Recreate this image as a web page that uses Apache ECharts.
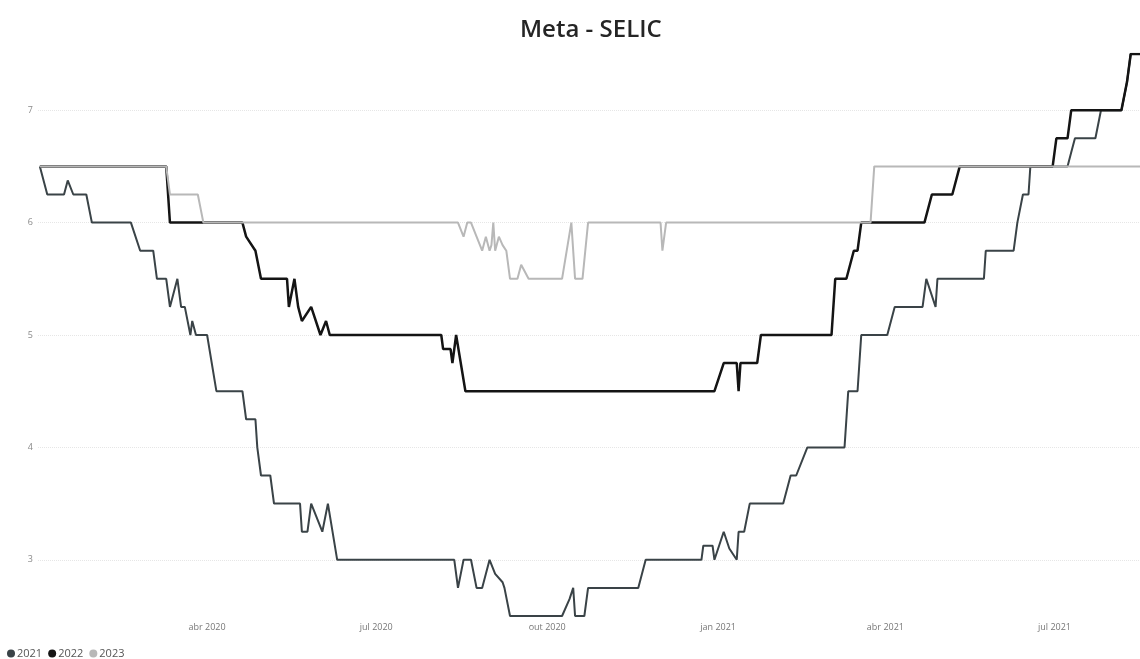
<!DOCTYPE html>
<html>
<head>
<meta charset="utf-8">
<title>Meta - SELIC</title>
<script src="https://cdn.jsdelivr.net/npm/echarts@6/dist/echarts.min.js"></script>
<style>
  html, body { margin: 0; padding: 0; background: #ffffff; }
  #selicChart { width: 1140px; height: 659px; }
</style>
</head>
<body>
<div id="selicChart"></div>
<script>
  // expectativas Focus - meta Selic para o fim de cada ano
  var seriesNames = ['2021', '2022', '2023'];

  var dates2021 = [
    '2020-01-02','2020-01-03','2020-01-06','2020-01-15','2020-01-17','2020-01-20','2020-01-27','2020-01-30','2020-02-20','2020-02-25',
    '2020-03-03','2020-03-05','2020-03-10','2020-03-12','2020-03-16','2020-03-18','2020-03-20','2020-03-23','2020-03-24','2020-03-26',
    '2020-04-01','2020-04-06','2020-04-20','2020-04-22','2020-04-27','2020-04-28','2020-04-30','2020-05-05','2020-05-07','2020-05-21',
    '2020-05-22','2020-05-25','2020-05-27','2020-06-02','2020-06-03','2020-06-05','2020-06-10','2020-08-12','2020-08-14','2020-08-17',
    '2020-08-21','2020-08-24','2020-08-27','2020-08-31','2020-09-03','2020-09-07','2020-09-08','2020-09-11','2020-10-09','2020-10-13',
    '2020-10-15','2020-10-16','2020-10-21','2020-10-23','2020-11-19','2020-11-23','2020-12-23','2020-12-24','2020-12-29','2020-12-30',
    '2021-01-04','2021-01-07','2021-01-11','2021-01-12','2021-01-15','2021-01-18','2021-02-05','2021-02-09','2021-02-12','2021-02-18',
    '2021-03-10','2021-03-12','2021-03-17','2021-03-19','2021-04-02','2021-04-06','2021-04-21','2021-04-23','2021-04-28','2021-04-29',
    '2021-05-24','2021-05-25','2021-06-09','2021-06-11','2021-06-12','2021-06-14','2021-06-17','2021-06-18','2021-07-08','2021-07-10',
    '2021-07-12','2021-07-23','2021-07-26','2021-08-06','2021-08-09','2021-08-11','2021-08-16'
  ];
  var values2021 = [
    6.5, 6.5, 6.25, 6.25, 6.375, 6.25, 6.25, 6, 6, 5.75,
    5.75, 5.5, 5.5, 5.25, 5.5, 5.25, 5.25, 5, 5.125, 5,
    5, 4.5, 4.5, 4.25, 4.25, 4, 3.75, 3.75, 3.5, 3.5,
    3.25, 3.25, 3.5, 3.25, 3.25, 3.5, 3, 3, 2.75, 3,
    3, 2.75, 2.75, 3, 2.875, 2.8, 2.75, 2.5, 2.5, 2.65,
    2.75, 2.5, 2.5, 2.75, 2.75, 3, 3, 3.125, 3.125, 3,
    3.25, 3.1, 3, 3.25, 3.25, 3.5, 3.5, 3.75, 3.75, 4,
    4, 4.5, 4.5, 5, 5, 5.25, 5.25, 5.5, 5.25, 5.5,
    5.5, 5.75, 5.75, 6, 6, 6.25, 6.25, 6.5, 6.5, 6.625,
    6.75, 6.75, 7, 7, 7.25, 7.5, 7.5
  ];

  var dates2022 = [
    '2020-01-02','2020-03-10','2020-03-12','2020-04-20','2020-04-22','2020-04-27','2020-04-30','2020-05-14','2020-05-15','2020-05-18',
    '2020-05-20','2020-05-22','2020-05-27','2020-06-01','2020-06-04','2020-06-06','2020-08-05','2020-08-06','2020-08-10','2020-08-11',
    '2020-08-13','2020-08-18','2020-12-30','2021-01-04','2021-01-11','2021-01-12','2021-01-13','2021-01-22','2021-01-24','2021-03-03',
    '2021-03-05','2021-03-11','2021-03-15','2021-03-17','2021-03-19','2021-04-22','2021-04-26','2021-05-07','2021-05-11','2021-06-30',
    '2021-07-02','2021-07-08','2021-07-10','2021-08-06','2021-08-09','2021-08-11','2021-08-16'
  ];
  var values2022 = [
    6.5, 6.5, 6, 6, 5.875, 5.75, 5.5, 5.5, 5.25, 5.5,
    5.25, 5.125, 5.25, 5, 5.125, 5, 5, 4.875, 4.875, 4.75,
    5, 4.5, 4.5, 4.75, 4.75, 4.5, 4.75, 4.75, 5, 5,
    5.5, 5.5, 5.75, 5.75, 6, 6, 6.25, 6.25, 6.5, 6.5,
    6.75, 6.75, 7, 7, 7.25, 7.5, 7.5
  ];

  var dates2023 = [
    '2020-01-02','2020-03-10','2020-03-12','2020-03-27','2020-03-30','2020-08-14','2020-08-17','2020-08-19','2020-08-21','2020-08-24',
    '2020-08-27','2020-08-29','2020-08-31','2020-09-01','2020-09-02','2020-09-03','2020-09-05','2020-09-07','2020-09-09','2020-09-11',
    '2020-09-15','2020-09-17','2020-09-21','2020-10-09','2020-10-14','2020-10-16','2020-10-20','2020-10-23','2020-12-01','2020-12-02',
    '2020-12-04','2021-03-24','2021-03-26','2021-08-16'
  ];
  var values2023 = [
    6.5, 6.5, 6.25, 6.25, 6, 6, 5.875, 6, 6, 5.875,
    5.75, 5.875, 5.75, 5.8, 6, 5.75, 5.875, 5.8, 5.75, 5.5,
    5.5, 5.625, 5.5, 5.5, 6, 5.5, 5.5, 6, 6, 5.75,
    6, 6, 6.5, 6.5
  ];

  // rotulos dos eixos
  var xStart = '2020-01-01';
  var xEnd = '2021-08-16';
  var xLabelMonths = [0, 3, 6, 9];          // jan, abr, jul, out
  var monthNames = ['jan', 'fev', 'mar', 'abr', 'mai', 'jun', 'jul', 'ago', 'set', 'out', 'nov', 'dez'];
  var yTicks = [3, 4, 5, 6, 7];

  function parseDay(s) {
    var p = s.split('-');
    return new Date(+p[0], +p[1] - 1, +p[2]).getTime();
  }

  function zip(dates, values) {
    return dates.map(function (d, i) { return [parseDay(d), values[i]]; });
  }

  var dom = document.getElementById('selicChart');
  var myChart = echarts.init(dom);

  var option = {
    animation: false,
    textStyle: { fontFamily: 'Open Sans' },
    title: {
      text: 'Meta - SELIC',
      left: 515,
      top: 13,
      textStyle: { fontFamily: 'Open Sans', fontSize: 24, fontWeight: 600, color: '#252525' }
    },
    legend: {
      data: seriesNames,
      left: 2,
      top: 643,
      icon: 'circle',
      itemWidth: 8,
      itemHeight: 8,
      itemGap: 6,
      textStyle: { fontSize: 11, color: '#555555', padding: [0, 0, 0, -3] }
    },
    grid: {
      left: 38,
      right: 0,
      top: 54,
      bottom: 43
    },
    xAxis: {
      type: 'time',
      min: parseDay(xStart),
      max: parseDay(xEnd),
      splitNumber: 20,
      axisLine: { show: false },
      axisTick: { show: false },
      splitLine: { show: false },
      axisLabel: {
        color: '#777777',
        fontSize: 9,
        margin: 7,
        hideOverlap: false,
        formatter: function (val) {
          var d = new Date(val);
          // o primeiro mes fica sem rotulo, como no original
          if (val <= parseDay(xStart) || d.getDate() !== 1 || xLabelMonths.indexOf(d.getMonth()) < 0) {
            return '';
          }
          return monthNames[d.getMonth()] + ' ' + d.getFullYear();
        }
      }
    },
    yAxis: {
      type: 'value',
      min: 2.5,
      max: 7.5,
      axisLine: { show: false },
      axisTick: { show: false, customValues: yTicks },
      axisLabel: { customValues: yTicks, color: '#8a8a8a', fontSize: 9, margin: 5 },
      splitLine: { show: true, lineStyle: { color: '#e6e6e6', type: 'dotted', width: 1 } }
    },
    series: [
      {
        name: '2021',
        type: 'line',
        showSymbol: false,
        symbol: 'none',
        color: '#3a4347',
        lineStyle: { width: 2, color: '#3a4347' },
        emphasis: { disabled: true },
        data: zip(dates2021, values2021)
      },
      {
        name: '2022',
        type: 'line',
        showSymbol: false,
        symbol: 'none',
        color: '#141414',
        lineStyle: { width: 2.5, color: '#141414' },
        emphasis: { disabled: true },
        data: zip(dates2022, values2022)
      },
      {
        name: '2023',
        type: 'line',
        showSymbol: false,
        symbol: 'none',
        color: '#b8b8b8',
        lineStyle: { width: 2, color: '#b8b8b8' },
        emphasis: { disabled: true },
        data: zip(dates2023, values2023)
      }
    ]
  };

  myChart.setOption(option, true);
  window.addEventListener('resize', function () {
    myChart.resize();
  });
</script>
</body>
</html>
